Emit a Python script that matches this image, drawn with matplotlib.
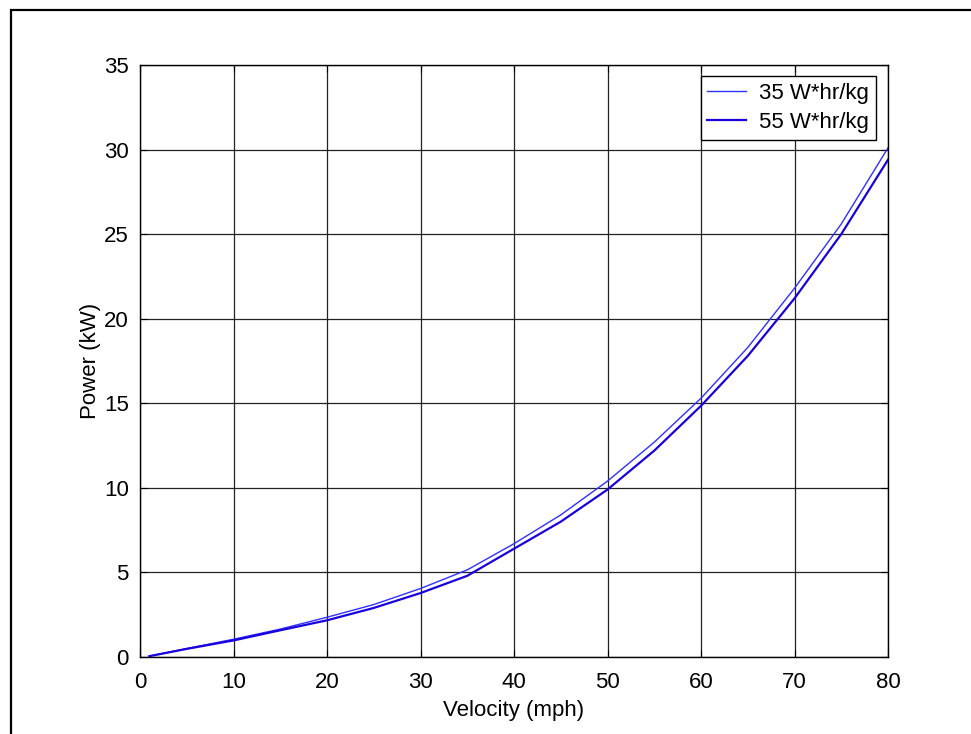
import matplotlib.pyplot as plt
from matplotlib.patches import Rectangle

# velocity (mph) and power (kW)
velocity = [1, 5, 10, 15, 20, 25, 30, 35, 40, 45, 50, 55, 60, 65, 70, 75, 80]
power35 = [0.05, 0.5, 1.05, 1.65, 2.35, 3.1, 4.05, 5.15, 6.7, 8.4, 10.4,
           12.7, 15.3, 18.3, 21.8, 25.6, 30.1]
power55 = [0.05, 0.48, 0.98, 1.58, 2.17, 2.9, 3.78, 4.8, 6.4, 8.0, 9.9,
           12.2, 14.85, 17.8, 21.2, 25.0, 29.4]

xticks = [0, 10, 20, 30, 40, 50, 60, 70, 80]
yticks = [0, 5, 10, 15, 20, 25, 30, 35]

plt.rcParams['font.family'] = ['Liberation Sans', 'DejaVu Sans']

fig = plt.figure(figsize=(9.71, 7.34), dpi=100)
ax = fig.add_axes([140 / 971, 1 - 657 / 734, 748 / 971, 592 / 734])

ax.plot(velocity, power35, color='#3030ff', lw=1.0, label='35 W*hr/kg')
ax.plot(velocity, power55, color='#1a00dd', lw=1.6, label='55 W*hr/kg')

ax.set_xlim(0, 80)
ax.set_ylim(0, 35)
ax.set_xticks(xticks)
ax.set_yticks(yticks)
ax.grid(True, color='#222222', lw=0.9)
ax.tick_params(direction='in', top=True, right=True, length=5,
               labelsize=16, pad=8)
ax.tick_params(axis='x', pad=11)
for s in ax.spines.values():
    s.set_linewidth(1.0)

ax.set_xlabel('Velocity (mph)', fontsize=16, labelpad=5)
ax.set_ylabel('Power (kW)', fontsize=16, labelpad=2)

leg = ax.legend(loc='upper right', bbox_to_anchor=(0.984, 0.9814),
                borderaxespad=0, fontsize=16, fancybox=False, framealpha=1,
                edgecolor='black', handlelength=1.75, handletextpad=0.6,
                labelspacing=0.37, borderpad=0.3)
leg.get_frame().set_linewidth(1.0)

# outer figure frame, cut off on the right and bottom
fig.patches.append(Rectangle((11 / 971, -0.1), 1.2, 1.1 - 10 / 734,
                             transform=fig.transFigure, fill=False,
                             edgecolor='black', lw=1.6))

fig.savefig('out.png', dpi=100)
